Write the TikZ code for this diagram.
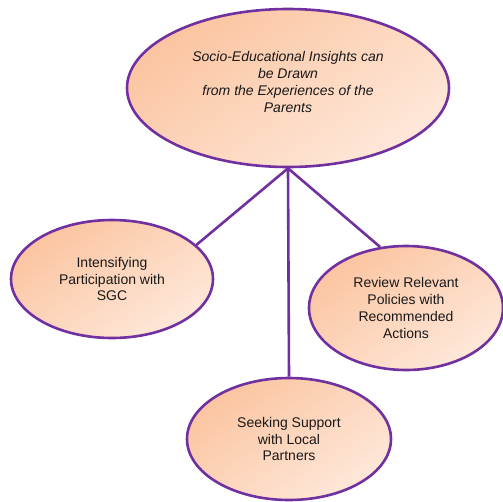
\documentclass[tikz,border=0pt]{standalone}
\usepackage{fontspec}
\setmainfont{Liberation Sans}
\usetikzlibrary{shapes.geometric}
\definecolor{peachdark}{RGB}{251,196,160}
\definecolor{peachlight}{RGB}{254,232,218}
\definecolor{rim}{RGB}{112,48,160}
\definecolor{ink}{RGB}{25,25,25}
\begin{document}
\begin{tikzpicture}[x=1pt,y=-1pt,
  bubble/.style={ellipse, draw=rim, line width=2.6pt, inner sep=0pt,
    top color=peachdark, bottom color=peachlight, shading angle=35},
  caption/.style={text=ink, align=center, font=\fontsize{14}{16.8}\selectfont},
  link/.style={draw=rim, line width=2.6pt}]
  \useasboundingbox (0,0) rectangle (503,501);

  % central theme
  \node[bubble, minimum width=322pt, minimum height=158pt] (core) at (288,88) {};
  \node[caption, font=\fontsize{14}{16.8}\selectfont\itshape] (coretext) at (288,82)
    {Socio-Educational Insights can\\be Drawn\\from the Experiences of the\\Parents};

  % sub themes
  \node[bubble, caption, minimum width=202pt, minimum height=118pt] (sgc) at (112,279)
    {Intensifying\\Participation with\\SGC};
  \node[bubble, caption, minimum width=194pt, minimum height=124pt] (policy) at (406,308)
    {Review Relevant\\Policies with\\Recommended\\Actions};
  \node[bubble, caption, minimum width=204pt, minimum height=122pt] (partners) at (289,439)
    {Seeking Support\\with Local\\Partners};

  % connectors
  \draw[link] (core.south) -- (sgc.22);
  \draw[link] (core.south) -- (partners.north);
  \draw[link] (core.south) -- (policy.113);
\end{tikzpicture}
\end{document}
